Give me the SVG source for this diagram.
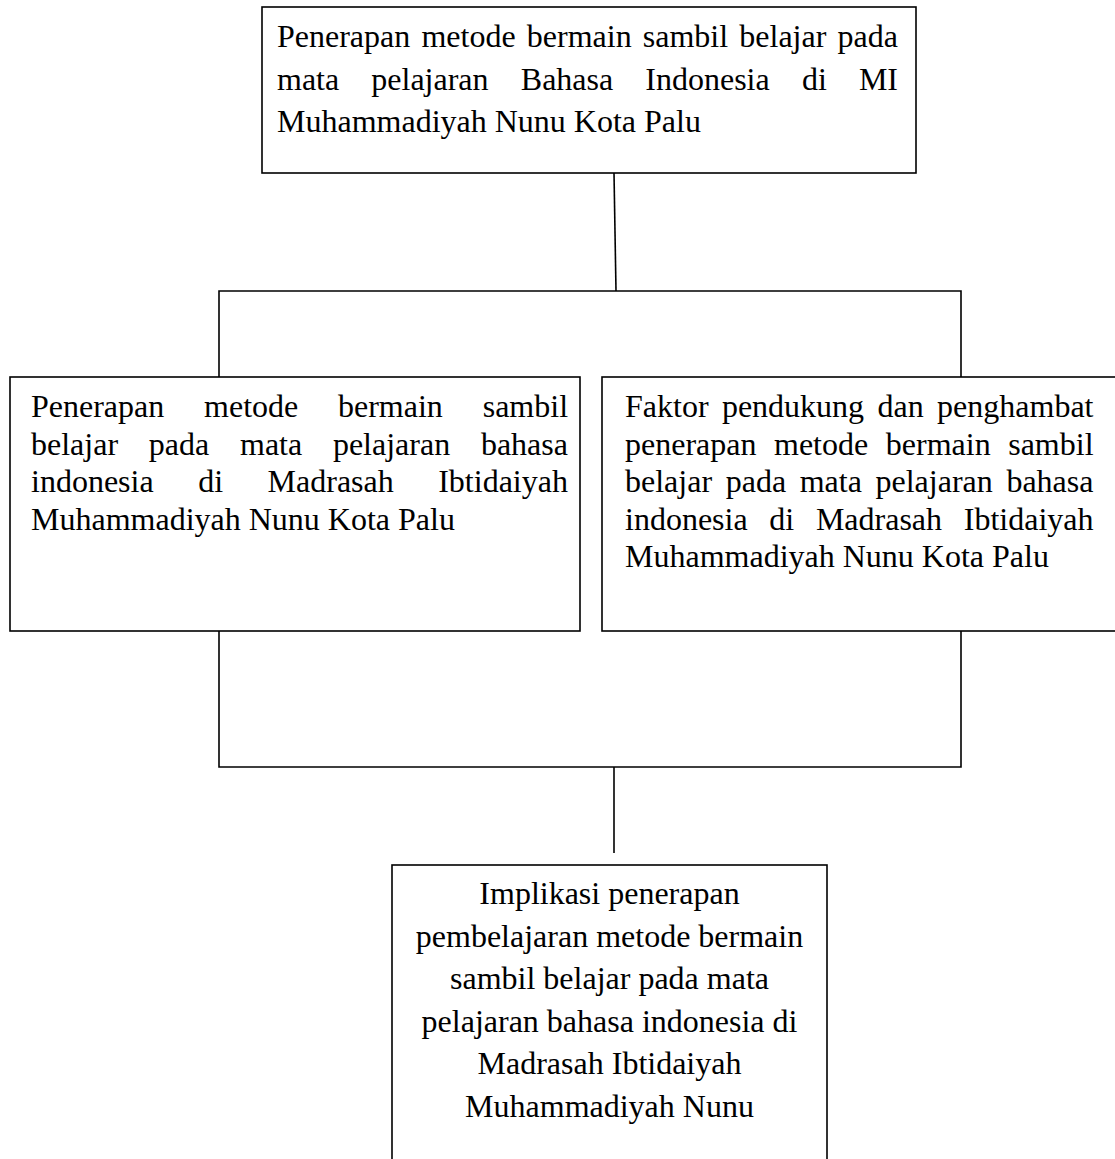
<svg xmlns="http://www.w3.org/2000/svg" width="1115" height="1159" viewBox="0 0 1115 1159">
<style>
.box{fill:#fff;stroke:#000;stroke-width:1.6}
.ln{fill:none;stroke:#000;stroke-width:1.6}
text{font-family:"Liberation Serif","Times New Roman",serif;font-size:32px;fill:#000}
.c{text-anchor:middle}
</style>
<rect width="1115" height="1159" fill="#fff"/>
<g id="connectors">
<path class="ln" d="M614,173 L616,291"/>
<path class="ln" d="M219,377 L219,291 L961,291 L961,377"/>
<path class="ln" d="M219,631 L219,767 L961,767 L961,631"/>
<path class="ln" d="M614,767 L614,853"/>
</g>
<g id="node-top">
<rect class="box" x="262" y="7" width="654" height="166"/>
<text y="47"><tspan x="277">Penerapan</tspan><tspan x="421.4">metode</tspan><tspan x="526.8">bermain</tspan><tspan x="642.8">sambil</tspan><tspan x="739.3">belajar</tspan><tspan x="837.6">pada</tspan></text>
<text y="89.5"><tspan x="277">mata</tspan><tspan x="371.3">pelajaran</tspan><tspan x="520.8">Bahasa</tspan><tspan x="645.3">Indonesia</tspan><tspan x="801.9">di</tspan><tspan x="858.9">MI</tspan></text>
<text x="277" y="132">Muhammadiyah Nunu Kota Palu</text>
</g>
<g id="node-left">
<rect class="box" x="10" y="377" width="570" height="254"/>
<text y="417"><tspan x="31">Penerapan</tspan><tspan x="204.1">metode</tspan><tspan x="338">bermain</tspan><tspan x="482.7">sambil</tspan></text>
<text y="454.5"><tspan x="31">belajar</tspan><tspan x="148.8">pada</tspan><tspan x="240">mata</tspan><tspan x="332.9">pelajaran</tspan><tspan x="480.9">bahasa</tspan></text>
<text y="492"><tspan x="31">indonesia</tspan><tspan x="198.2">di</tspan><tspan x="267.6">Madrasah</tspan><tspan x="438.2">Ibtidaiyah</tspan></text>
<text x="31" y="529.5">Muhammadiyah Nunu Kota Palu</text>
</g>
<g id="node-right">
<rect class="box" x="602" y="377" width="530" height="254"/>
<text y="417"><tspan x="625">Faktor</tspan><tspan x="721.9">pendukung</tspan><tspan x="877.5">dan</tspan><tspan x="937.1">penghambat</tspan></text>
<text y="454.5"><tspan x="625">penerapan</tspan><tspan x="774">metode</tspan><tspan x="885.8">bermain</tspan><tspan x="1008.2">sambil</tspan></text>
<text y="492"><tspan x="625">belajar</tspan><tspan x="725.7">pada</tspan><tspan x="799.7">mata</tspan><tspan x="875.5">pelajaran</tspan><tspan x="1006.4">bahasa</tspan></text>
<text y="529.5"><tspan x="625">indonesia</tspan><tspan x="769.3">di</tspan><tspan x="815.9">Madrasah</tspan><tspan x="963.8">Ibtidaiyah</tspan></text>
<text x="625" y="567">Muhammadiyah Nunu Kota Palu</text>
</g>
<g id="node-bottom">
<rect class="box" x="392" y="865" width="435" height="320"/>
<text class="c" x="609.5" y="904">Implikasi penerapan</text>
<text class="c" x="609.5" y="946.5">pembelajaran metode bermain</text>
<text class="c" x="609.5" y="989">sambil belajar pada mata</text>
<text class="c" x="609.5" y="1031.5">pelajaran bahasa indonesia di</text>
<text class="c" x="609.5" y="1074">Madrasah Ibtidaiyah</text>
<text class="c" x="609.5" y="1116.5">Muhammadiyah Nunu</text>
</g>
</svg>
